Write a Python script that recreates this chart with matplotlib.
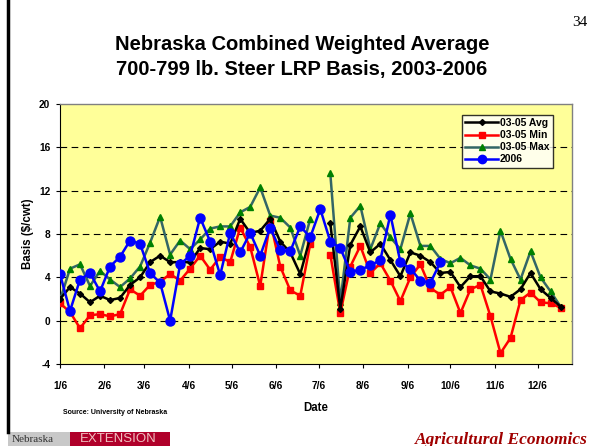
import numpy as np
import pandas as pd
import matplotlib
matplotlib.use("Agg")
import matplotlib.pyplot as plt
from matplotlib.patches import Rectangle
from matplotlib.lines import Line2D

nan = np.nan
weeks = pd.date_range("2006-01-06", periods=51, freq="7D")
avg = [2.0, 3.1, 2.5, 1.7, 2.3, 1.9, 2.1, 3.3, 4.0, 5.4, 6.0, 5.4, 5.4, 5.4, 6.7, 6.6, 7.3, 7.1,
       9.4, 8.1, 8.3, 9.4, 7.3, 6.3, 4.3, 7.7, nan, 9.0, 1.1, 7.0, 8.7, 6.3, 7.1, 5.6, 4.1, 6.3,
       6.0, 5.4, 4.4, 4.5, 3.1, 4.1, 4.1, 2.7, 2.5, 2.2, 2.9, 4.4, 2.9, 2.1, 1.3]
vmin = [1.6, 0.8, -0.7, 0.5, 0.6, 0.4, 0.6, 2.9, 2.3, 3.3, 3.6, 4.3, 3.7, 4.8, 6.0, 4.7, 5.9, 5.4,
        8.6, 6.8, 3.2, 9.2, 5.0, 2.8, 2.3, 7.1, nan, 6.1, 0.7, 5.0, 6.9, 4.4, 5.3, 3.7, 1.8, 4.0,
        5.2, 3.0, 2.4, 3.1, 0.7, 2.9, 3.3, 0.4, -3.0, -1.6, 1.9, 2.6, 1.7, 1.6, 1.2]
vmax = [1.9, 4.8, 5.2, 3.2, 4.6, 3.8, 3.1, 3.9, 5.0, 7.2, 9.6, 6.1, 7.4, 6.6, 7.5, 8.5, 8.7, 8.7,
        10.0, 10.5, 12.3, 9.7, 9.5, 8.6, 6.0, 9.4, nan, 13.6, 1.7, 9.5, 10.6, 6.6, 9.0, 7.7, 6.6, 9.9,
        6.9, 6.9, 5.7, 5.3, 5.8, 5.1, 4.8, 3.8, 8.3, 5.7, 3.8, 6.4, 4.0, 2.7, 1.3]
y2006 = [4.3, 0.9, 3.8, 4.4, 2.7, 5.0, 5.9, 7.4, 7.1, 4.4, 3.5, 0.0, 5.2, 6.0, 9.5, 7.3, 4.2, 8.1,
         6.3, 8.1, 6.0, 8.6, 6.5, 6.4, 8.7, 7.7, 10.3, 7.3, 6.7, 4.5, 4.7, 5.1, 5.6, 9.8, 5.4, 4.8,
         3.7, 3.5, 5.4]
tick_dates = pd.to_datetime(["2006-01-06", "2006-02-06", "2006-03-06", "2006-04-06", "2006-05-06",
                             "2006-06-06", "2006-07-06", "2006-08-06", "2006-09-06", "2006-10-06",
                             "2006-11-06", "2006-12-06"])
tick_labels = ["1/6", "2/6", "3/6", "4/6", "5/6", "6/6", "7/6", "8/6", "9/6", "10/6", "11/6", "12/6"]

plt.rcParams['font.family'] = ['Liberation Sans', 'DejaVu Sans']
plt.rcParams['axes.unicode_minus'] = False

W, H = 594, 446
fig = plt.figure(figsize=(W / 100, H / 100), dpi=100)
fig.patch.set_facecolor("white")

def fx(x):
    return x / W

def fy(y):
    return 1 - y / H

ax = fig.add_axes([fx(60), fy(364), fx(572) - fx(60), fy(104) - fy(364)])
ax.set_facecolor("#FFFF99")

x_all = weeks
x06 = weeks[:len(y2006)]

ax.plot(x_all, vmax, color="#336666", lw=1.8, marker="^", ms=5, mfc="#008000", mec="#008000",
        label="03-05 Max", zorder=3)
ax.plot(x_all, vmin, color="#FF0000", lw=1.8, marker="s", ms=4, mfc="#FF0000", mec="#FF0000",
        label="03-05 Min", zorder=3)
ax.plot(x_all, avg, color="black", lw=1.8, marker="D", ms=3, mfc="black", mec="black",
        label="03-05 Avg", zorder=4)
ax.plot(x06, y2006, color="#0000FF", lw=1.8, marker="o", ms=6.5, mfc="#0000FF", mec="#0000FF",
        label="2006", zorder=5)

start = pd.Timestamp("2006-01-06")
ax.set_xlim(start, start + pd.Timedelta(days=358))
ax.set_ylim(-4, 20)
ax.set_yticks(range(-4, 21, 4))
ax.set_xticks(tick_dates)
ax.set_xticklabels(tick_labels)
for lab in ax.get_xticklabels() + ax.get_yticklabels():
    lab.set_fontweight("bold")
    lab.set_fontsize(7.3)
ax.tick_params(axis="both", direction="out", length=3, width=0.8, colors="black")
ax.tick_params(axis="x", pad=9)
ax.tick_params(axis="y", pad=4)

for g in [0, 4, 8, 12, 16]:
    ax.axhline(g, color="black", lw=0.8, dashes=(6, 4), zorder=1)

for s in ["top", "right"]:
    ax.spines[s].set_color("#808080")
    ax.spines[s].set_linewidth(1)
for s in ["left", "bottom"]:
    ax.spines[s].set_color("black")
    ax.spines[s].set_linewidth(0.8)

ax.set_ylabel("Basis ($/cwt)", fontsize=8.3, fontweight="bold")
ax.yaxis.set_label_coords((34 - 60) / 512, 0.5)
ax.set_xlabel("Date", fontsize=8.3, fontweight="bold", labelpad=8)

handles = [
    Line2D([], [], color="black", lw=1.8, marker="D", ms=3),
    Line2D([], [], color="#FF0000", lw=1.8, marker="s", ms=4),
    Line2D([], [], color="#336666", lw=1.8, marker="^", ms=5, mfc="#008000", mec="#008000"),
    Line2D([], [], color="#0000FF", lw=1.8, marker="o", ms=6),
]
leg = ax.legend(handles, ["03-05 Avg", "03-05 Min", "03-05 Max", "2006"],
                loc="upper left", bbox_to_anchor=((462 - 60) / 512, (364 - 115) / 260),
                prop={"weight": "bold", "size": 7.5}, frameon=True, fancybox=False,
                handlelength=3.2, handletextpad=0.15, borderpad=0.3, labelspacing=0.2,
                borderaxespad=0)
leg.get_frame().set_edgecolor("black")
leg.get_frame().set_linewidth(1)
leg.get_frame().set_facecolor("white")

fig.text(fx(302), fy(45), "Nebraska Combined Weighted Average", ha="center", va="center",
         fontsize=14.5, fontweight="bold")
fig.text(fx(302), fy(70), "700-799 lb. Steer LRP Basis, 2003-2006", ha="center", va="center",
         fontsize=14.5, fontweight="bold")
fig.text(fx(580), fy(22), "34", ha="center", va="center", fontsize=11,
         family="Liberation Serif")
fig.text(fx(63), fy(412), "Source: University of Nebraska", ha="left", va="center",
         fontsize=5, fontweight="bold")

# left page rule
fig.add_artist(Line2D([fx(8), fx(8)], [fy(0), fy(432)], color="black", lw=2.5))
# logos
fig.add_artist(Rectangle((fx(8), fy(446)), fx(62), fy(432) - fy(446), color="#C8C8C8", lw=0))
fig.add_artist(Rectangle((fx(70), fy(446)), fx(100), fy(432) - fy(446), color="#B0002A", lw=0))
fig.text(fx(12), fy(439), "Nebraska", fontsize=8, family="Liberation Serif", va="center",
         ha="left", color="#333333")
fig.text(fx(80), fy(439.5), "EXTENSION", fontsize=9.5, va="center", ha="left", color="#F0C0C0")
fig.text(fx(588), fy(439.5), "Agricultural Economics", fontsize=12.5, fontweight="bold",
         fontstyle="italic", family="Liberation Serif", color="#A00000", ha="right", va="center")

fig.savefig("out.png", dpi=100, facecolor="white")
